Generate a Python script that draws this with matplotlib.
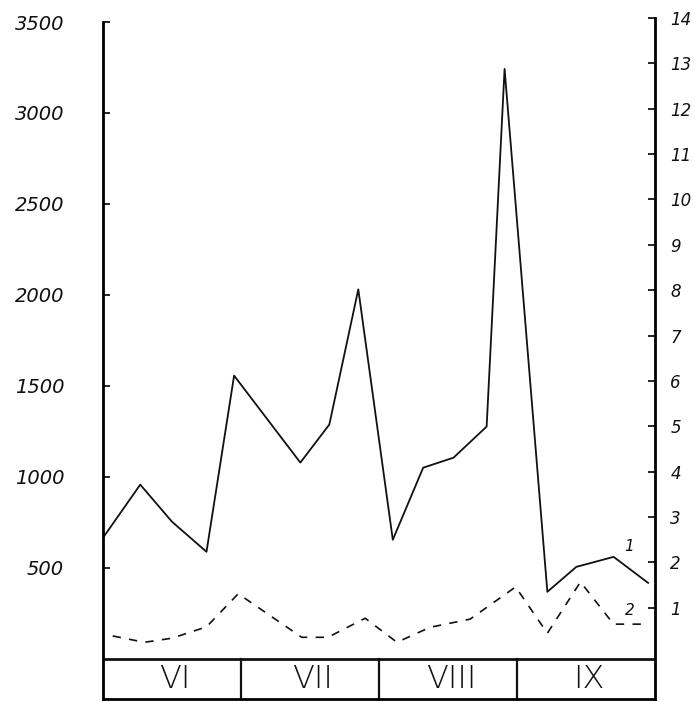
import matplotlib
matplotlib.use("Agg")
from matplotlib import pyplot as plt

# months (equal-width cells under the plot)
months = ['VI', 'VII', 'VIII', 'IX']

# series 1 (left scale), x in month units from 1 June
x1 = [0.0, 0.27, 0.50, 0.75, 0.95, 1.43, 1.64, 1.85, 2.10, 2.32, 2.54, 2.78, 2.91, 3.22, 3.43, 3.70, 3.95]
y1 = [666, 958, 754, 589, 1557, 1079, 1288, 2031, 655, 1051, 1106, 1277, 3242, 369, 506, 561, 418]

# series 2 (right scale)
x2 = [0.07, 0.30, 0.50, 0.75, 0.98, 1.44, 1.63, 1.90, 2.13, 2.37, 2.66, 2.99, 3.22, 3.46, 3.70, 3.95]
y2 = [0.38, 0.24, 0.33, 0.58, 1.31, 0.35, 0.35, 0.77, 0.24, 0.57, 0.75, 1.46, 0.44, 1.57, 0.64, 0.64]

left_ticks = [500, 1000, 1500, 2000, 2500, 3000, 3500]
right_ticks = list(range(1, 15))

W, H = 695, 702
fig = plt.figure(figsize=(W / 100, H / 100), dpi=100)
ax = fig.add_axes([103 / W, 3 / H, (655 - 103) / W, (700 - 19) / H])
ax.set_xlim(0, 4)
ax.set_ylim(-220, 3522)

ax2 = ax.twinx()
ax2.set_ylim(-1.01, 14.0)

ink = '#111111'

ax.plot(x1, y1, color=ink, lw=1.3)
ax2.plot(x2, y2, color=ink, lw=1.2, linestyle=(0, (5, 5)))

# month box under the curves
ax.axhline(0, color=ink, lw=2)
for i in range(1, len(months)):
    ax.plot([i, i], [-220, 0], color=ink, lw=1.6)
for i, m in enumerate(months):
    ax.text(i + 0.52, -110, m, ha='center', va='center', fontsize=23,
            family='DejaVu Sans', fontweight='light', color=ink)

# curve labels
ax.text(3.78, 592, '1', fontsize=11, style='italic', color=ink)
ax2.text(3.78, 0.85, '2', fontsize=11, style='italic', color=ink)

ax.spines['top'].set_visible(False)
ax2.spines['top'].set_visible(False)
ax.spines['left'].set_bounds(-220, 3500)
ax.spines['left'].set_linewidth(2)
ax.spines['bottom'].set_linewidth(2)
ax2.spines['right'].set_bounds(-1.01, 14)
ax2.spines['right'].set_linewidth(2)
ax2.spines['left'].set_visible(False)
ax2.spines['bottom'].set_visible(False)
ax.spines['right'].set_visible(False)

ax.set_xticks([])
ax.set_yticks(left_ticks)
ax.set_yticklabels([str(t) for t in left_ticks], fontsize=14, style='italic', color=ink)
ax.tick_params(axis='y', direction='in', length=5, width=1.2, pad=28)

ax2.set_yticks(right_ticks)
ax2.set_yticklabels([str(t) for t in right_ticks], fontsize=12, style='italic', color=ink)
ax2.tick_params(axis='y', direction='in', length=5, width=1.2, pad=11)

fig.savefig('out.png', dpi=100)
